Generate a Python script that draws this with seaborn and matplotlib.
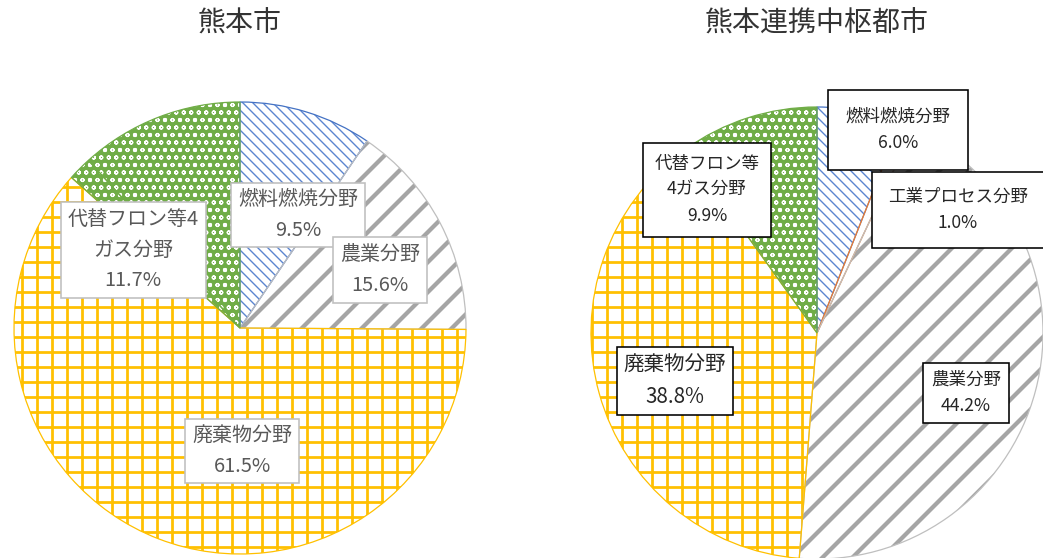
import matplotlib
matplotlib.use('Agg')
import matplotlib.pyplot as plt
import seaborn as sns

# --- data ---
city_title = '熊本市'
city_sectors = ['燃料燃焼分野', '農業分野', '廃棄物分野', '代替フロン等4ガス分野', '代替フロン等4ガス分野']
city_labels = ['燃料燃焼分野', '農業分野', '廃棄物分野', None, '代替フロン等4\nガス分野']
city_share = [9.5, 15.6, 61.5, 1.7, 11.7]   # 4th: unlabeled green remainder

region_title = '熊本連携中枢都市'
region_sectors = ['燃料燃焼分野', '工業プロセス分野', '農業分野', '廃棄物分野', '代替フロン等4ガス分野']
region_labels = ['燃料燃焼分野', '工業プロセス分野', '農業分野', '廃棄物分野', '代替フロン等\n4ガス分野']
region_share = [6.0, 1.0, 44.2, 38.8, 9.9]

# fill style per sector: face, hatch colour, hatch, hatch width, outline
STYLE = {
    '燃料燃焼分野': dict(face='white', hc='#5B85D0', hatch='\\\\\\', hlw=1.1, line='#4472C4'),
    '工業プロセス分野': dict(face='white', hc='#ED7D31', hatch='', hlw=1.0, line='#ED7D31'),
    '農業分野': dict(face='white', hc='#A5A5A5', hatch='/', hlw=3.4, line='#BFBFBF'),
    '廃棄物分野': dict(face='white', hc='#FFC000', hatch='+', hlw=2.2, line='#FFC000'),
    '代替フロン等4ガス分野': dict(face='#70AD47', hc='white', hatch='oo', hlw=1.0, line='#70AD47'),
}

DPI = 90
W, H = 1043, 558
R = 226
LIM = 1.02


def px(v):
    return v * 72 / DPI


sns.set_theme(style='white')
plt.rcParams['font.family'] = ['Noto Sans CJK JP', 'DejaVu Sans']
plt.rcParams['hatch.linewidth'] = 1.5

fig = plt.figure(figsize=(W / DPI, H / DPI), dpi=DPI)
fig.patch.set_facecolor('white')


def add_pie_axes(cx, cy):
    half = R * LIM
    return fig.add_axes([(cx - half) / W, (H - cy - half) / H, 2 * half / W, 2 * half / H])


def draw_pie(ax, sectors, shares, labels, pos, sizes, pads, text_color, box_edge):
    fills = [STYLE[s] for s in sectors]
    wedges, _ = ax.pie(shares, startangle=90, counterclock=False, radius=1,
                       colors=[f['face'] for f in fills], wedgeprops=dict(linewidth=0))
    for w, f in zip(wedges, fills):
        w.set_edgecolor(f['hc'])
        w.set_linewidth(0)
        w.set_hatch(f['hatch'])
        if hasattr(w, 'set_hatch_linewidth'):
            w.set_hatch_linewidth(f['hlw'])
    outline, _ = ax.pie(shares, startangle=90, counterclock=False, radius=1,
                        wedgeprops=dict(linewidth=1.0))
    for w, f in zip(outline, fills):
        w.set_facecolor('none')
        w.set_edgecolor(f['line'])
    ax.set_xlim(-LIM, LIM)
    ax.set_ylim(-LIM, LIM)
    ax.set_axis_off()

    k = 0
    for lab, v in zip(labels, shares):
        if lab is None:
            continue
        x, y = pos[k]
        ax.text(x, y, f'{lab}\n{v:.1f}%', ha='center', va='center',
                fontsize=px(sizes[k]), color=text_color, linespacing=1.6,
                bbox=dict(boxstyle=f'square,pad={pads[k]}', fc='white',
                          ec=box_edge, lw=px(1.6)), zorder=5)
        k += 1


# left pie
ax1 = add_pie_axes(240, 328)
draw_pie(ax1, city_sectors, city_share, city_labels,
         pos=[(0.257, 0.500), (0.619, 0.257), (0.009, -0.544), (-0.473, 0.345)],
         sizes=[20, 20, 20, 20], pads=[0.33, 0.35, 0.33, 0.35],
         text_color='#595959', box_edge='#BFBFBF')

# right pie
ax2 = add_pie_axes(817, 333)
draw_pie(ax2, region_sectors, region_share, region_labels,
         pos=[(0.358, 0.898), (0.624, 0.544), (0.659, -0.265), (-0.628, -0.212), (-0.487, 0.633)],
         sizes=[17.5, 17.5, 17.5, 20.5, 17.5], pads=[1.0, 0.9, 0.45, 0.35, 0.65],
         text_color='#262626', box_edge='black')

fig.text(240 / W, 1 - 24 / H, city_title, ha='center', va='center',
         fontsize=px(28), color='#333333')
fig.text(817 / W, 1 - 24 / H, region_title, ha='center', va='center',
         fontsize=px(28), color='#333333')

fig.savefig('out.png', dpi=DPI, facecolor='white')
